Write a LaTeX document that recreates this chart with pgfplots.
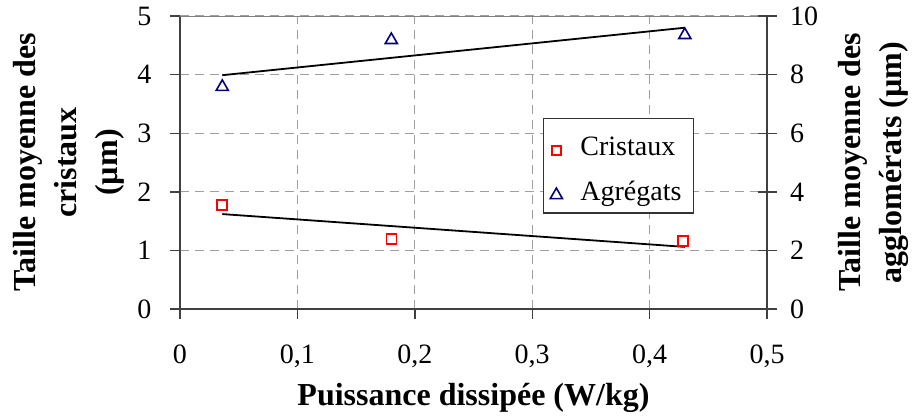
\documentclass[border=0pt]{standalone}
\usepackage{fontspec}
\setmainfont{Liberation Serif}
\usepackage{pgfplots}
\pgfplotsset{compat=1.18}
\definecolor{navy}{RGB}{0,0,128}
\begin{document}
\fontsize{28pt}{34pt}\selectfont
\begin{tikzpicture}
\pgfplotsset{
  common/.style={
    scale only axis, width=587pt, height=293pt,
    xmin=0, xmax=0.5,
    /pgf/number format/assume math mode=true,
    /pgf/number format/use comma,
    tick style={draw=black!75, line width=1.4pt},
    ticklabel style={font=\fontsize{28pt}{32pt}\selectfont},
    label style={font=\fontsize{32pt}{41pt}\selectfont\bfseries},
  }
}
\begin{axis}[
  common,
  ymin=0, ymax=5,
  xtick={0,0.1,0.2,0.3,0.4,0.5},
  ytick={0,1,2,3,4,5},
  axis x line*=bottom, axis y line*=left,
  axis line style={draw=black!75, line width=1.8pt, -},
  grid=major,
  major grid style={gray!75, line width=1.2pt, dash pattern=on 9pt off 6pt},
  tick align=outside, major tick length=10pt,
  xticklabel style={yshift=-16pt},
  yticklabel style={xshift=-9pt},
  xlabel={Puissance dissipée (W/kg)},
  xlabel style={at={(axis description cs:0.5,-0.328)}, anchor=base},
  ylabel={Taille moyenne des\\cristaux\\(µm)},
  ylabel style={align=center, at={(axis description cs:-0.189,0.5)}, anchor=center},
]
\addplot[black, line width=1.8pt, no marks] coordinates {(0.036,1.62) (0.43,1.06)};
\addplot[black, line width=1.8pt, no marks] coordinates {(0.036,3.99) (0.43,4.80)};
\addplot[only marks, mark=square, mark size=5pt, red, mark options={line width=1.6pt}]
  coordinates {(0.036,1.77) (0.18,1.19) (0.4285,1.16)};
\draw[gray, line width=1.6pt] (rel axis cs:0,1) -- (rel axis cs:1,1);
\coordinate (O) at (rel axis cs:0,0);
\end{axis}
\begin{axis}[
  common,
  ymin=0, ymax=10,
  ytick={0,2,4,6,8,10},
  axis x line=none, axis y line*=right,
  axis line style={draw=black!75, line width=1.8pt, -},
  tick align=center, major tick length=19pt,
  yticklabel style={xshift=4pt},
  ylabel={Taille moyenne des\\agglomérats (µm)},
  ylabel style={align=center, at={(axis description cs:1.182,0.5)}, anchor=center, rotate=0},
  legend style={at={(axis description cs:0.618,0.652)}, anchor=north west,
    draw=black!80, line width=1.2pt, font=\fontsize{28pt}{32pt}\selectfont,
    row sep=-1.5pt, inner xsep=4pt, inner ysep=2pt,
    nodes={inner xsep=8pt, text height=33pt, text depth=9pt}},
  legend image code/.code={%
    \path[draw=none, fill=none] (-9pt,0pt) rectangle (16pt,0pt);
    \draw[#1] plot coordinates {(0pt,0pt)};},
  legend image post style={yshift=-7pt},
  legend cell align=left,
]
\addlegendimage{only marks, mark=square, mark size=4.5pt, red, mark options={line width=1.5pt}}
\addlegendentry{Cristaux}
\addplot[only marks, mark=triangle, mark size=7pt, navy, mark options={line width=1.6pt}]
  coordinates {(0.036,7.58) (0.18,9.18) (0.43,9.35)};
\addlegendentry{Agrégats}
\end{axis}
\pgfresetboundingbox
\path (O) ++(-180pt,-107pt) rectangle ++(917pt,416pt);
\end{tikzpicture}
\end{document}
